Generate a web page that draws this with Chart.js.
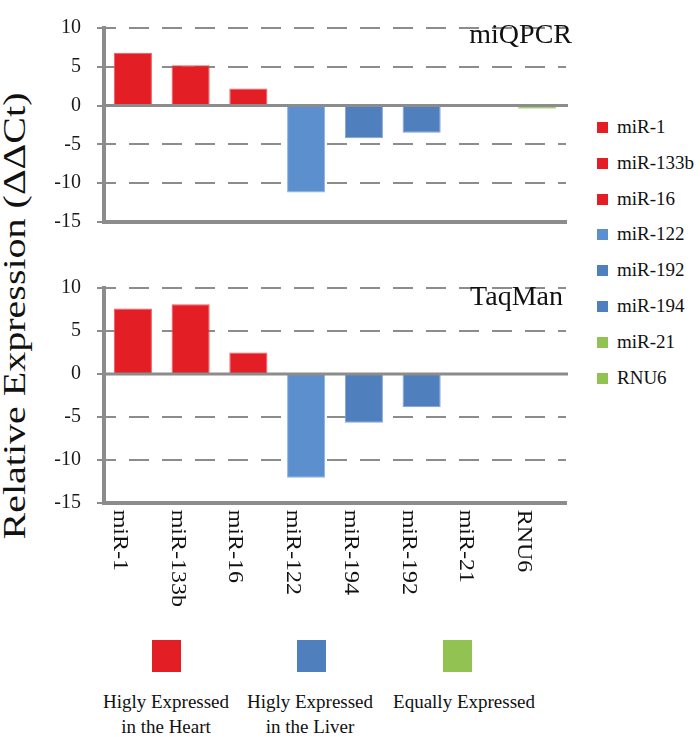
<!DOCTYPE html>
<html>
<head>
<meta charset="utf-8">
<script src="https://cdn.jsdelivr.net/npm/chart.js@4.4.0/dist/chart.umd.min.js"></script>
<style>
    body { margin: 0; background: #fff; }
    #wrap { position: relative; width: 700px; height: 737px; font-family: 'Liberation Serif', serif; color: #111; overflow: hidden; }
    .box { position: absolute; left: 0; }
    #topBox { top: 0; }
    #botBox { top: 260px; }
    #ytitle { position: absolute; left: 14px; top: 316px; font-size: 32px; line-height: 32px; white-space: nowrap;
              font-family: 'Liberation Serif', serif; transform: translate(-50%, -50%) rotate(-90deg) scaleX(1.25); }
    .panel { position: absolute; font-size: 28px; line-height: 28px; white-space: nowrap; font-family: 'Liberation Serif', serif; }
    #legend { position: absolute; left: 597px; top: 0; }
    .item { position: absolute; left: 0; font-size: 19px; line-height: 20px; white-space: nowrap; font-family: 'Liberation Serif', serif; }
    .item span { display: inline-block; width: 11px; height: 11px; margin-right: 9px; vertical-align: baseline; }
    .key { position: absolute; top: 640px; width: 29px; height: 32px; }
    .keytext { position: absolute; top: 689px; width: 200px; text-align: center; font-size: 19px; line-height: 25px; font-family: 'Liberation Serif', serif; }
</style>
</head>
<body>
<div id="wrap">
    <div id="ytitle">Relative Expression (ΔΔCt)</div>
    <div class="box" id="topBox"><canvas id="topChart" width="580" height="250"></canvas></div>
    <div class="box" id="botBox"><canvas id="botChart" width="580" height="360"></canvas></div>
    <div class="panel" id="title1" style="right:128px; top:20px;">miQPCR</div>
    <div class="panel" id="title2" style="right:137px; top:282px;">TaqMan</div>
    <div id="legend"></div>
    <div id="keys"></div>
</div>
<script>
const categories = ['miR-1', 'miR-133b', 'miR-16', 'miR-122', 'miR-194', 'miR-192', 'miR-21', 'RNU6'];
const miqpcrValues = [6.8, 5.2, 2.2, -11.2, -4.2, -3.5, 0, -0.4];
const taqmanValues = [7.6, 8.1, 2.5, -12.1, -5.7, -3.9, 0, 0];
const yTicks = [10, 5, 0, -5, -10, -15];
const barColors = ['#e31e24', '#e31e24', '#e31e24', '#5b8fcd', '#4f7fbd', '#4f7fbd', '#92c352', '#92c352'];
const barEdges = ['#f0585c', '#f0585c', '#f0585c', '#8db3e0', '#7fa3d3', '#7fa3d3', '#b5d98a', '#b5d98a'];

const legendNames = ['miR-1', 'miR-133b', 'miR-16', 'miR-122', 'miR-192', 'miR-194', 'miR-21', 'RNU6'];
const legendColors = ['#e31e24', '#e31e24', '#e31e24', '#5b8fcd', '#4f7fbd', '#4f7fbd', '#92c352', '#92c352'];

const groupLabels = [['Higly Expressed', 'in the Heart'], ['Higly Expressed', 'in the Liver'], ['Equally Expressed']];
const groupColors = ['#e31e24', '#4f7fbd', '#92c352'];

const gray = '#8c8c8c';
const serif = '"Liberation Serif", serif';

// solid line at zero, on top of the bars
const zeroLine = {
    id: 'zeroLine',
    afterDatasetsDraw(chart) {
        const {ctx, chartArea, scales: {y}} = chart;
        const py = y.getPixelForValue(0);
        ctx.save();
        ctx.strokeStyle = gray;
        ctx.lineWidth = 3;
        ctx.beginPath();
        ctx.moveTo(chartArea.left, py);
        ctx.lineTo(chartArea.right + 2, py);
        ctx.stroke();
        ctx.restore();
    }
};

// category labels turned clockwise, read top to bottom
const xLabels = {
    id: 'xLabels',
    afterDraw(chart) {
        const {ctx, chartArea, scales: {x}} = chart;
        ctx.save();
        ctx.font = '20px ' + serif;
        ctx.fillStyle = '#111';
        ctx.textAlign = 'left';
        ctx.textBaseline = 'alphabetic';
        x.ticks.forEach((t, i) => {
            ctx.save();
            ctx.translate(x.getPixelForTick(i) - 19, chartArea.bottom + 7);
            ctx.rotate(Math.PI / 2);
            ctx.scale(1.2, 1);
            ctx.fillText(categories[i], 0, 0);
            ctx.restore();
        });
        ctx.restore();
    }
};

function makeChart(id, values, pad, withLabels) {
    const plugins = [zeroLine];
    if (withLabels) plugins.push(xLabels);
    return new Chart(document.getElementById(id), {
        type: 'bar',
        data: {
            labels: categories,
            datasets: [{
                data: values,
                backgroundColor: barColors,
                borderColor: barEdges,
                borderWidth: 1,
                barPercentage: 0.66,
                categoryPercentage: 1
            }]
        },
        options: {
            responsive: false,
            animation: false,
            layout: { padding: pad },
            plugins: { legend: { display: false }, tooltip: { enabled: false } },
            scales: {
                x: {
                    z: 1,
                    grid: { display: false },
                    ticks: { display: false },
                    border: { color: gray, width: 4 },
                    afterFit: s => { s.height = 0; }
                },
                y: {
                    z: 1,
                    min: -15,
                    max: 10,
                    afterBuildTicks: s => { s.ticks = yTicks.map(v => ({value: v})); },
                    afterFit: s => { s.width = 104; },
                    ticks: {
                        font: { family: serif, size: 20 },
                        color: '#1a1a1a',
                        padding: 16
                    },
                    grid: {
                        color: c => (c.tick && (c.tick.value === 0 || c.tick.value === -15)) ? 'rgba(0,0,0,0)' : gray,
                        lineWidth: 2,
                        tickLength: 7,
                        tickColor: gray,
                        tickWidth: 2
                    },
                    border: { color: gray, width: 4, dash: [20, 13], dashOffset: 10 }
                }
            }
        },
        plugins: plugins
    });
}

function build() {
    makeChart('topChart', miqpcrValues, {top: 14, right: 14, bottom: 13, left: 0}, false);
    makeChart('botChart', taqmanValues, {top: 20, right: 14, bottom: 117.3, left: 0}, true);
}

// legend on the right, one entry per miRNA
const legendEl = document.getElementById('legend');
legendNames.forEach((name, i) => {
    const d = document.createElement('div');
    d.className = 'item';
    d.style.top = (117 + i * 35.8) + 'px';
    d.innerHTML = '<span style="background:' + legendColors[i] + '"></span>' + name;
    legendEl.appendChild(d);
});

// key below the chart
const keyLeft = [152, 297, 443];
const keyText = [166, 310, 464];
const keysEl = document.getElementById('keys');
groupLabels.forEach((lines, i) => {
    const sq = document.createElement('div');
    sq.className = 'key';
    sq.style.left = keyLeft[i] + 'px';
    sq.style.background = groupColors[i];
    keysEl.appendChild(sq);
    const t = document.createElement('div');
    t.className = 'keytext';
    t.style.left = (keyText[i] - 100) + 'px';
    t.innerHTML = lines.join('<br>');
    keysEl.appendChild(t);
});

document.fonts.load('20px "Liberation Serif"').then(build, build);
</script>
</body>
</html>
